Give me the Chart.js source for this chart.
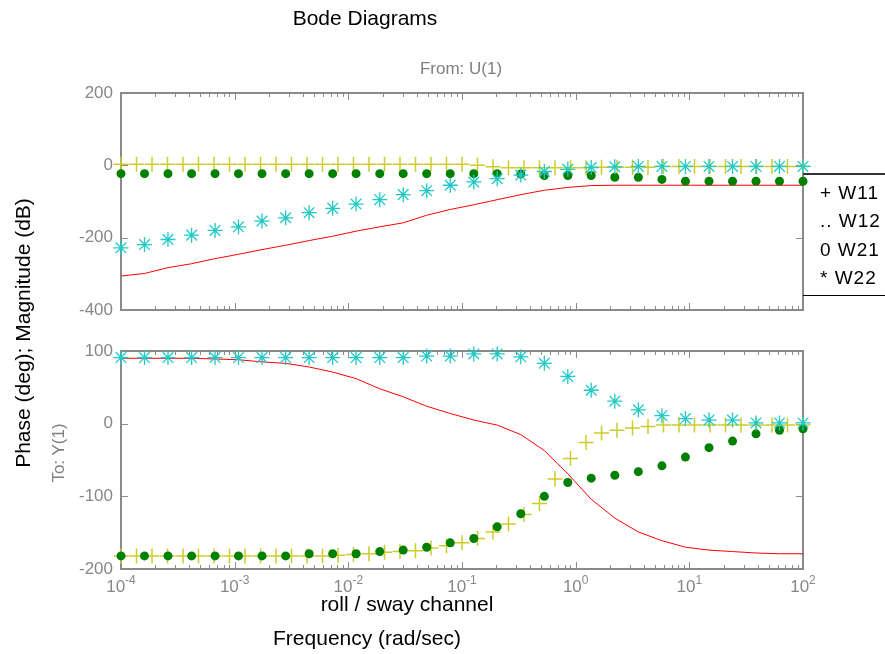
<!DOCTYPE html>
<html>
<head>
<meta charset="utf-8">
<script src="https://cdn.jsdelivr.net/npm/chart.js@4.4.1/dist/chart.umd.min.js"></script>
<style>
  body { margin: 0; width: 885px; height: 654px; position: relative; background: #fff; overflow: hidden;
         font-family: "Liberation Sans", Arial, sans-serif; }
  canvas { position: absolute; left: 0; }
  .txt { position: absolute; white-space: nowrap; transform: translate(-50%, -50%); line-height: 1; }
  .rot { transform: translate(-50%, -50%) rotate(-90deg); }
  .legend { position: absolute; left: 803px; top: 173px; width: 100px; height: 120px;
            border-top: 2px solid #333; border-bottom: 1px solid #000; }
  .legend div { position: absolute; left: 17px; font-size: 19px; letter-spacing: 1px; line-height: 1; }
</style>
</head>
<body>
<canvas id="mag" width="885" height="330" style="top:0"></canvas>
<canvas id="phase" width="885" height="324" style="top:330px"></canvas>

<div class="txt" style="left:365px; top:17px; font-size:21px;">Bode Diagrams</div>
<div class="txt" style="left:461px; top:68px; font-size:17px; color:#808080;">From: U(1)</div>
<div class="txt rot" style="left:22px; top:333px; font-size:21px;">Phase (deg); Magnitude (dB)</div>
<div class="txt rot" style="left:58px; top:453px; font-size:17px; color:#808080;">To: Y(1)</div>
<div class="txt" style="left:407px; top:603px; font-size:21px;">roll / sway channel</div>
<div class="txt" style="left:367px; top:637px; font-size:21px;">Frequency (rad/sec)</div>
<div class="legend">
  <div style="top:8px">+ W11</div>
  <div style="top:36px">.. W12</div>
  <div style="top:65px">0 W21</div>
  <div style="top:93px">* W22</div>
</div>

<script>
// frequency grid used by W12, W21, W22 (rad/sec)
const freqA = [1.0e-4, 1.61e-4, 2.59e-4, 4.18e-4, 6.72e-4, 1.08e-3, 1.74e-3, 2.81e-3, 4.52e-3, 7.28e-3,
  1.17e-2, 1.89e-2, 3.04e-2, 4.89e-2, 7.88e-2, 0.127, 0.204, 0.329, 0.530, 0.853,
  1.37, 2.21, 3.56, 5.74, 9.24, 14.9, 24.0, 38.6, 62.1, 100];
// finer grid used by W11
const freqW11 = [1.0e-4, 1.369e-4, 1.874e-4, 2.565e-4, 3.511e-4, 4.806e-4, 6.579e-4, 9.006e-4, 1.233e-3, 1.688e-3,
  2.310e-3, 3.162e-3, 4.329e-3, 5.926e-3, 8.111e-3, 1.110e-2, 1.520e-2, 2.081e-2, 2.848e-2, 3.899e-2,
  5.337e-2, 7.305e-2, 0.1, 0.1369, 0.1874, 0.2565, 0.3511, 0.4806, 0.6579, 0.9006,
  1.233, 1.688, 2.310, 3.162, 4.329, 5.926, 8.111, 11.10, 15.20, 20.81,
  28.48, 38.99, 53.37, 73.05, 100];

// magnitude (dB)
const magW11 = [3, 3, 3, 3, 3, 3, 3, 3, 3, 3, 3, 3, 3, 3, 3, 3, 3, 3, 3, 3, 3, 3, 3,
  0, -4, -7, -7, -7, -7, -7, -7, -5, -5, -5, -5, -3, -3, -3, -3, -3, -3, -3, -3, -3, -3];
const magW12 = [-306, -299, -283, -272, -258, -246, -233, -221, -208, -196,
  -182, -170, -159, -138, -122, -109, -95, -81, -69, -61,
  -56, -55, -55, -55, -55, -55, -55, -55, -55, -55];
const magW21 = [-23, -23, -23, -23, -23, -23, -23, -23, -23, -23,
  -23, -23, -23, -23, -23, -23, -23, -24, -28, -28,
  -28, -33, -33, -39, -44, -44, -44, -44, -44, -44];
const magW22 = [-228, -219, -205, -193, -180, -170, -154, -145, -131, -119,
  -107, -95, -81, -70, -55, -46, -37, -27, -17, -11,
  -6, -4, -3, -3, -3, -3, -3, -3, -3, -3];

// phase (deg)
const phaseW11 = [-182, -182, -182, -182, -182, -182, -182, -182, -182, -182, -182, -182, -182, -182,
  -181, -180, -179, -177, -176, -175, -171, -168, -164, -158, -149, -138, -125, -110, -76, -48,
  -26, -13, -9, -6, -4, -2, -2, -2, -2, -2, -2, -2, -2, -2, -2];
const phaseW12 = [90, 90, 90, 90, 89, 88, 85, 83, 78, 71,
  62, 48, 37, 24, 14, 5, -2, -15, -37, -69,
  -104, -130, -149, -161, -170, -174, -176, -178, -179, -179];
const phaseW21 = [-182, -182, -182, -182, -182, -182, -182, -182, -179, -179,
  -179, -176, -174, -170, -164, -158, -142, -124, -100, -81,
  -75, -71, -66, -58, -46, -33, -24, -14, -9, -7];
const phaseW22 = [91, 91, 91, 91, 91, 91, 91, 91, 91, 91,
  91, 91, 91, 93, 93, 96, 96, 92, 83, 65,
  46, 31, 19, 11, 7, 5, 5, 1, 1, 1];

const magTicks = [200, 0, -200, -400];
const phaseTicks = [100, 0, -100, -200];
const freqDecades = [-4, -3, -2, -1, 0, 1, 2];

const GRAY = '#878787';
const pts = (xs, ys) => xs.map((f, i) => ({ x: f, y: ys[i] }));

// box, inward ticks and tick labels, all placed through the chart scales
const frame = {
  id: 'frame',
  beforeDatasetsDraw(chart, args, opts) {
    const { ctx, chartArea: a, scales: { x, y } } = chart;
    ctx.save();
    ctx.strokeStyle = '#8a8a8a';
    ctx.lineWidth = 2;
    ctx.strokeRect(a.left, a.top, a.right - a.left, a.bottom - a.top);
    ctx.lineWidth = 1;
    ctx.beginPath();
    for (let d = freqDecades[0]; d < freqDecades[freqDecades.length - 1]; d++) {
      for (let m = 1; m < 10; m++) {
        const px = Math.round(x.getPixelForValue(m * Math.pow(10, d))) + 0.5;
        const len = m === 1 ? 7 : 4;
        ctx.moveTo(px, a.top); ctx.lineTo(px, a.top + len);
        ctx.moveTo(px, a.bottom); ctx.lineTo(px, a.bottom - len);
      }
    }
    opts.yTicks.forEach(v => {
      const py = Math.round(y.getPixelForValue(v)) + 0.5;
      ctx.moveTo(a.left, py); ctx.lineTo(a.left + 7, py);
      ctx.moveTo(a.right, py); ctx.lineTo(a.right - 7, py);
    });
    ctx.stroke();
    ctx.restore();
  },
  afterDraw(chart, args, opts) {
    const { ctx, chartArea: a, scales: { x, y } } = chart;
    ctx.save();
    ctx.fillStyle = GRAY;
    ctx.font = '17px "Liberation Sans", Arial, sans-serif';
    ctx.textAlign = 'right';
    ctx.textBaseline = 'middle';
    opts.yTicks.forEach(v => {
      ctx.fillText(String(v), a.left - 8, y.getPixelForValue(v));
    });
    if (opts.xLabels) {
      ctx.textAlign = 'left';
      ctx.textBaseline = 'alphabetic';
      freqDecades.forEach(d => {
        const px = x.getPixelForValue(Math.pow(10, d));
        const exp = d < 0 ? '-' + (-d) : String(d);
        ctx.font = '17px "Liberation Sans", Arial, sans-serif';
        const wb = ctx.measureText('10').width;
        ctx.font = '12px "Liberation Sans", Arial, sans-serif';
        const we = ctx.measureText(exp).width;
        const x0 = px - (wb + we) / 2;
        ctx.font = '17px "Liberation Sans", Arial, sans-serif';
        ctx.fillText('10', x0, a.bottom + 23);
        ctx.font = '12px "Liberation Sans", Arial, sans-serif';
        ctx.fillText(exp, x0 + wb, a.bottom + 15);
      });
    }
    ctx.restore();
  }
};

function makeDatasets(w11, w12, w21, w22) {
  return [
    { label: 'W11', data: pts(freqW11, w11), pointStyle: 'cross', pointRadius: 7.5,
      borderColor: 'rgb(204,204,40)', pointBorderWidth: 1.5, order: 4, clip: false },
    { label: 'W12', data: pts(freqA, w12), showLine: true, pointRadius: 0,
      borderColor: '#ff0000', borderWidth: 1, order: 3, clip: false },
    { label: 'W21', data: pts(freqA, w21), pointStyle: 'circle', pointRadius: 4.5,
      backgroundColor: '#008000', borderColor: '#008000', pointBorderWidth: 0, order: 2, clip: false },
    { label: 'W22', data: pts(freqA, w22), pointStyle: 'star', pointRadius: 7.5,
      borderColor: 'rgb(32,200,200)', pointBorderWidth: 1.3, order: 1, clip: false }
  ];
}

function makeChart(id, datasets, yMin, yMax, yTicks, padding, xLabels) {
  return new Chart(document.getElementById(id), {
    type: 'scatter',
    data: { datasets },
    options: {
      responsive: false,
      animation: false,
      devicePixelRatio: 1,
      events: [],
      layout: { padding },
      scales: {
        x: { type: 'logarithmic', min: 1e-4, max: 1e2, display: false },
        y: { min: yMin, max: yMax, display: false }
      },
      plugins: {
        legend: { display: false },
        tooltip: { enabled: false },
        frame: { yTicks, xLabels }
      }
    },
    plugins: [frame]
  });
}

makeChart('mag', makeDatasets(magW11, magW12, magW21, magW22), -400, 200, magTicks,
  { left: 121, right: 82, top: 93, bottom: 20 }, false);
makeChart('phase', makeDatasets(phaseW11, phaseW12, phaseW21, phaseW22), -200, 100, phaseTicks,
  { left: 121, right: 82, top: 21, bottom: 85 }, true);
</script>
</body>
</html>
